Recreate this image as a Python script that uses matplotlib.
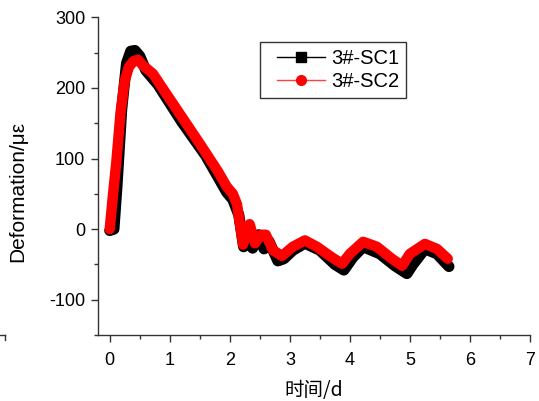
import matplotlib
matplotlib.use("Agg")
import matplotlib.pyplot as plt
from matplotlib.lines import Line2D
from matplotlib.legend_handler import HandlerLine2D

# Data
sc1_x = [0, 0.07, 0.12, 0.2, 0.28, 0.35, 0.42, 0.5, 0.6, 0.8, 1.2, 1.6, 1.95, 2.05, 2.15,
         2.23, 2.3, 2.38, 2.48, 2.57, 2.65, 2.8, 2.9, 3.05, 3.25, 3.5, 3.75, 3.9, 4.05, 4.22,
         4.5, 4.75, 4.95, 5.05, 5.25, 5.45, 5.65]
sc1_y = [-2, 0, 60, 170, 235, 252, 253, 245, 225, 205, 152, 104, 52, 42, 20,
         -25, 3, -27, -8, -28, -17, -45, -42, -30, -20, -30, -50, -58, -40, -25,
         -35, -52, -63, -50, -28, -35, -53]

sc2_x = [0, 0.05, 0.11, 0.18, 0.25, 0.32, 0.40, 0.47, 0.55, 0.72, 0.9, 1.2, 1.5, 1.8, 1.95,
         2.05, 2.12, 2.22, 2.33, 2.42, 2.52, 2.6, 2.72, 2.87, 3.05, 3.25, 3.45, 3.7, 3.87,
         4.0, 4.22, 4.45, 4.7, 4.87, 5.0, 5.25, 5.45, 5.63]
sc2_y = [0, 45, 95, 165, 210, 230, 238, 240, 232, 220, 197, 159, 121, 82, 60,
         50, 35, -22, 7, -20, -8, -8, -30, -38, -25, -16, -25, -40, -49,
         -35, -18, -25, -42, -52, -35, -21, -28, -42]

labels = ["3#-SC1", "3#-SC2"]
x_ticks = [0, 1, 2, 3, 4, 5, 6, 7]
y_ticks = [-100, 0, 100, 200, 300]

plt.rcParams['font.family'] = ['Liberation Sans', 'DejaVu Sans']
plt.rcParams['axes.unicode_minus'] = False

fig = plt.figure(figsize=(5.39, 4.01), dpi=100)
ax = fig.add_axes([0.1813, 0.1646, 0.8020, 0.7922])

ax.plot(sc1_x, sc1_y, color='black', lw=8, solid_capstyle='round', solid_joinstyle='round')
ax.plot(sc2_x, sc2_y, color='red', lw=7.5, solid_capstyle='round', solid_joinstyle='round')

ax.set_xlim(-0.2, 7)
ax.set_ylim(-148, 300)
ax.set_xticks(x_ticks)
ax.set_yticks(y_ticks)
ax.set_xticks([v + 0.5 for v in x_ticks[:-1]], minor=True)
ax.set_yticks([-150 + 50 * i for i in range(10)], minor=True)

for s in ['top', 'right']:
    ax.spines[s].set_visible(False)
for s in ['left', 'bottom']:
    ax.spines[s].set_color('#333333')
    ax.spines[s].set_linewidth(1.0)

ax.tick_params(which='major', direction='out', length=5, width=1, color='#333333',
               labelsize=13)
ax.tick_params(axis='x', which='major', pad=7)
ax.tick_params(axis='y', which='major', pad=4)
ax.tick_params(which='minor', direction='out', length=3, width=1, color='#333333')

ax.set_ylabel("Deformation/\u03bc\u03b5", fontsize=15)
ax.yaxis.set_label_coords(-0.1635, 0.453)
ax.set_xlabel("时间/d", fontsize=14, family=['Noto Sans CJK SC', 'DejaVu Sans'], labelpad=8)

handles = [Line2D([], [], color='black', lw=1, marker='s', markersize=6.5),
           Line2D([], [], color='#ff4040', lw=1, marker='o', markersize=7,
                  markerfacecolor='red', markeredgecolor='red')]
leg = ax.legend(handles, labels, loc='upper left', bbox_to_anchor=(0.375, 0.922),
                borderaxespad=0, fontsize=14.5, frameon=True, fancybox=False,
                handlelength=2.9, handletextpad=0.3, borderpad=0.35, labelspacing=0.2,
                handler_map={Line2D: HandlerLine2D(xpad=0.5)})
leg.get_frame().set_edgecolor('black')
leg.get_frame().set_linewidth(1.0)

# fragment of a neighbouring panel at left edge
fig.add_artist(Line2D([0, 5/539], [66/401, 66/401], color='#333333', lw=1))
fig.add_artist(Line2D([4.5/539, 4.5/539], [66/401, 61/401], color='#333333', lw=1))

fig.savefig("out.png", dpi=100)
